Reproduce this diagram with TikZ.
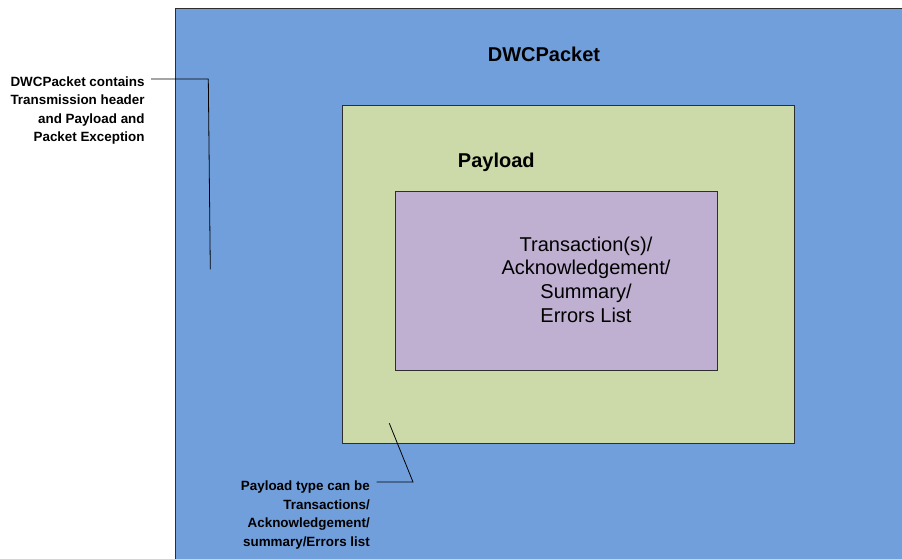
\documentclass[tikz,border=0pt]{standalone}
\usepackage{fontspec}
\setmainfont{Liberation Sans}
\definecolor{packetblue}{HTML}{719FDC}
\definecolor{payloadgreen}{HTML}{CCDAA9}
\definecolor{contentpurple}{HTML}{BFB0D2}
\definecolor{edgegray}{HTML}{2E2E2E}
\tikzset{
  box/.style={draw=edgegray, line width=0.9pt, anchor=north west, inner sep=0pt, outer sep=0pt},
  title/.style={font=\fontsize{20}{24}\selectfont\bfseries, anchor=base, inner sep=0pt},
  inner/.style={font=\fontsize{20}{23.7}\selectfont, align=center, anchor=north, inner sep=0pt},
  note/.style={font=\fontsize{13.4}{18.5}\selectfont\bfseries, align=right, anchor=north east, inner sep=0pt},
  leader/.style={draw=black, line width=0.8pt}
}
\begin{document}
\begin{tikzpicture}[x=1pt, y=-1pt]
\useasboundingbox (0,0) rectangle (902,558);
\clip (0,0) rectangle (902,558);
\fill[white] (0,0) rectangle (902,558);
\node[box, fill=packetblue, minimum width=740pt, minimum height=560pt] (packet) at (175,8) {};
\node[box, fill=payloadgreen, minimum width=452pt, minimum height=338pt] (payload) at (342,105) {};
\node[box, fill=contentpurple, minimum width=322pt, minimum height=179pt] (content) at (395,191.5) {};
\node[title] (packettitle) at (544,61) {DWCPacket};
\node[title] (payloadtitle) at (496.3,167.7) {Payload};
\node[inner] (contenttext) at (586,236.5) {Transaction(s)/\\Acknowledgement/\\Summary/\\Errors List};
\node[note] (note1) at (144.8,76.5) {DWCPacket contains\\Transmission header\\and Payload and\\Packet Exception};
\node[note] (note2) at (370,480.8) {Payload type can be\\Transactions/\\Acknowledgement/\\summary/Errors list};
\coordinate (n1start) at (151,79);
\coordinate (n1knee) at (208.3,79);
\coordinate (n1end) at (210.3,269.3);
\coordinate (n2start) at (376.7,482);
\coordinate (n2knee) at (413,482);
\coordinate (n2end) at (389.3,423.3);
\draw[leader] (n1start) -- (n1knee) -- (n1end);
\draw[leader] (n2start) -- (n2knee) -- (n2end);
\end{tikzpicture}
\end{document}
